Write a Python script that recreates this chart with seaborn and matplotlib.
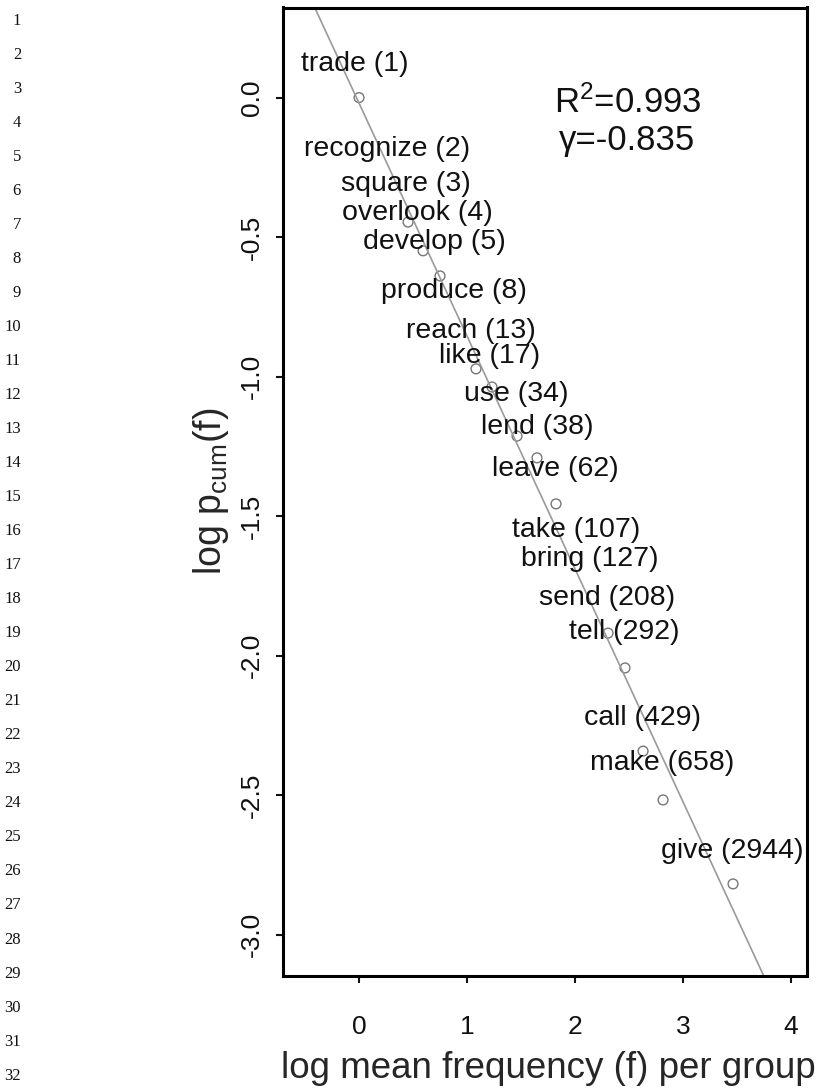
import seaborn as sns
import matplotlib.pyplot as plt
import pandas as pd
import numpy as np

# group points: log mean frequency vs log cumulative probability
log_freq = [0.0, 0.454, 0.593, 0.75, 1.083, 1.231, 1.463, 1.648, 1.824,
            2.306, 2.463, 2.63, 2.815, 3.463]
log_pcum = [0.0, -0.446, -0.549, -0.639, -0.972, -1.037, -1.213, -1.291,
            -1.456, -1.919, -2.044, -2.342, -2.517, -2.818]

# verb labels and where they sit (data units)
verbs = ['trade', 'recognize', 'square', 'overlook', 'develop', 'produce',
         'reach', 'like', 'use', 'lend', 'leave', 'take', 'bring', 'send',
         'tell', 'call', 'make', 'give']
verb_counts = [1, 2, 3, 4, 5, 8, 13, 17, 34, 38, 62, 107, 127, 208, 292,
               429, 658, 2944]
label_x = [-0.037, 0.259, 0.431, 0.537, 0.694, 0.880, 1.037, 1.213, 1.460,
           1.653, 1.815, 2.006, 2.134, 2.294, 2.454, 2.625, 2.810, 3.458]
label_y = [0.121, -0.184, -0.309, -0.413, -0.517, -0.693, -0.836, -0.926,
           -1.062, -1.180, -1.331, -1.549, -1.653, -1.793, -1.915, -2.223,
           -2.385, -2.700]

x_ticks = [0, 1, 2, 3, 4]
y_ticks = [0.0, -0.5, -1.0, -1.5, -2.0, -2.5, -3.0]
r_squared = 0.993
gamma = -0.835

df = pd.DataFrame({'x': log_freq, 'y': log_pcum})

sns.set_style('ticks')
plt.rcParams['font.family'] = ['Liberation Sans', 'DejaVu Sans']
plt.rcParams['mathtext.fontset'] = 'custom'
plt.rcParams['mathtext.rm'] = 'Liberation Sans'
plt.rcParams['mathtext.it'] = 'Liberation Sans:italic'

fig = plt.figure(figsize=(8.22, 10.88), dpi=100)
ax = fig.add_axes([283 / 822, 1 - 976 / 1088, 524 / 822, 968.5 / 1088])
ax.set_xlim(-0.704, 4.148)
ax.set_ylim(-3.148, 0.323)

sns.regplot(data=df, x='x', y='y', ax=ax, ci=None, truncate=False,
            marker='o',
            scatter_kws={'facecolors': 'none', 'edgecolors': '#555555',
                         's': 50, 'linewidths': 1.0},
            line_kws={'color': '#9a9a9a', 'linewidth': 1.2})

for v, n, lx, ly in zip(verbs, verb_counts, label_x, label_y):
    ax.text(lx, ly, f'{v} ({n})', ha='center', va='center', fontsize=20.5,
            color='#111111', clip_on=False)

ax.text(2.491, -0.019, f'R$^2$={r_squared}', ha='center', va='center',
        fontsize=25, color='#111111')
ax.text(2.481, -0.152, f'\u03b3={gamma}', ha='center', va='center',
        fontsize=25, color='#111111')

ax.set_xticks(x_ticks)
ax.set_xticklabels([str(t) for t in x_ticks])
ax.set_yticks(y_ticks)
ax.set_yticklabels([f'{t:.1f}' for t in y_ticks], rotation=90, va='center')
ax.tick_params(axis='both', direction='out', length=5, width=1.5,
               labelsize=19, colors='#111111')
ax.tick_params(axis='x', pad=23)
ax.tick_params(axis='y', pad=9)

for s in ax.spines.values():
    s.set_visible(True)
    s.set_linewidth(2.2)
    s.set_color('black')

ax.set_xlabel('log mean frequency (f) per group', fontsize=26.5)
ax.xaxis.set_label_coords(0.506, -0.0774)
ax.set_ylabel(r'log p$_{\mathrm{cum}}$(f)', fontsize=27)
ax.yaxis.set_label_coords(-0.100, 0.5)

# manuscript line numbers down the left margin
for k in range(1, 33):
    fig.text(21 / 822, 1 - (20.7 + 34.03 * (k - 1)) / 1088, str(k),
             ha='right', va='center', fontsize=12,
             family='Liberation Serif', color='#111111')

fig.savefig('out.png', dpi=100)
